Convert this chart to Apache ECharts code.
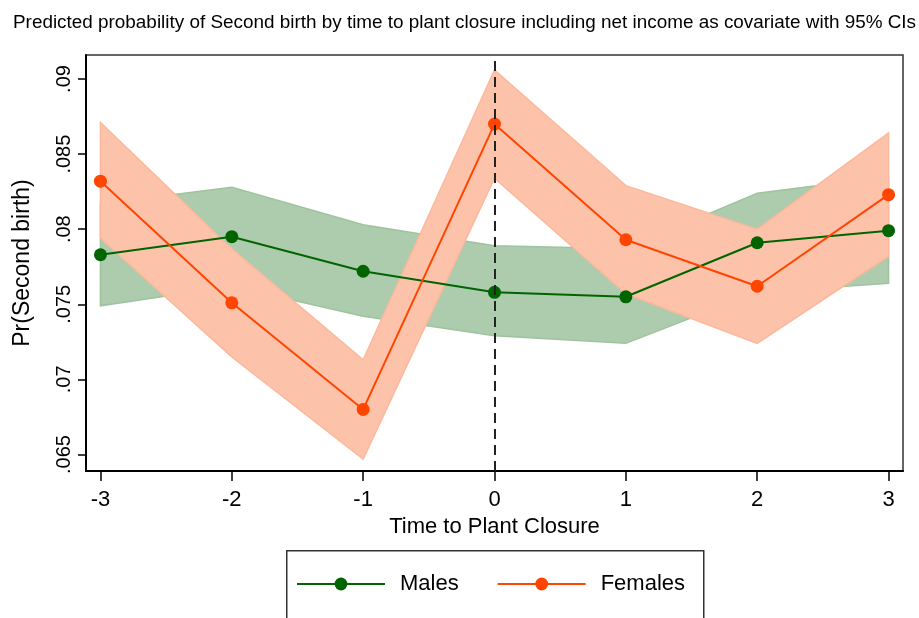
<!DOCTYPE html>
<html><head><meta charset="utf-8">
<script src="https://cdn.jsdelivr.net/npm/echarts@6/dist/echarts.min.js"></script>
<style>html,body{margin:0;padding:0;background:#fff}#c{width:919px;height:618px}</style>
</head><body><div id="c"></div>
<script>
const timeToClosure = [-3, -2, -1, 0, 1, 2, 3];
const males   = [0.0783, 0.0795, 0.0772, 0.0758, 0.0755, 0.0791, 0.0799];
const malesLo = [0.0749, 0.0762, 0.0742, 0.0729, 0.0724, 0.0758, 0.0764];
const malesHi = [0.0817, 0.0828, 0.0803, 0.0789, 0.0787, 0.0824, 0.0835];
const females   = [0.0832, 0.0751, 0.0680, 0.0870, 0.0793, 0.0762, 0.0823];
const femalesLo = [0.0794, 0.0715, 0.0647, 0.0834, 0.0757, 0.0724, 0.0782];
const femalesHi = [0.0871, 0.0787, 0.0713, 0.0906, 0.0829, 0.0800, 0.0864];
const xTicks = [-3, -2, -1, 0, 1, 2, 3];
const yTicks = [0.065, 0.07, 0.075, 0.08, 0.085, 0.09];

const FONT = '"Liberation Sans", Arial, sans-serif';
const chart = echarts.init(document.getElementById('c'), null, {renderer: 'canvas'});

function bandSeries(name, lo, hi, fill, edge, z) {
  return {
    type: 'custom', name: name, z: z, silent: true,
    data: timeToClosure.map((x, i) => [x, lo[i], hi[i]]),
    encode: {x: 0, y: [1, 2]},
    renderItem: function (params, api) {
      if (params.dataIndex !== 0) return null;
      const pts = [];
      for (let i = 0; i < timeToClosure.length; i++) pts.push(api.coord([timeToClosure[i], hi[i]]));
      for (let i = timeToClosure.length - 1; i >= 0; i--) pts.push(api.coord([timeToClosure[i], lo[i]]));
      return {type: 'polygon', shape: {points: pts}, style: {fill: fill, stroke: edge, lineWidth: 1.5}};
    }
  };
}

chart.setOption({
  animation: false,
  backgroundColor: '#fff',
  title: {
    text: 'Predicted probability of Second birth by time to plant closure including net income as covariate with 95% CIs',
    left: 8, top: 8,
    textStyle: {fontFamily: FONT, fontSize: 18.9, fontWeight: 'normal', color: '#000'}
  },
  grid: {left: 86, right: 16, top: 55, bottom: 147, show: true, borderColor: '#333', borderWidth: 1.5, backgroundColor: 'transparent'},
  xAxis: {
    type: 'value', min: -3.11, max: 3.11,
    name: 'Time to Plant Closure', nameLocation: 'middle', nameGap: 42,
    nameTextStyle: {fontFamily: FONT, fontSize: 22, color: '#000'},
    axisLine: {show: true, onZero: false, lineStyle: {color: '#000', width: 2}},
    axisTick: {show: true, customValues: xTicks, length: 10, lineStyle: {color: '#000', width: 1.5}},
    axisLabel: {customValues: xTicks, fontFamily: FONT, fontSize: 22, color: '#000', margin: 18},
    splitLine: {show: false}
  },
  yAxis: {
    type: 'value', min: 0.0639, max: 0.0916,
    name: 'Pr(Second birth)', nameLocation: 'middle', nameGap: 52,
    nameTextStyle: {fontFamily: FONT, fontSize: 23, color: '#000'},
    axisLine: {show: true, onZero: false, lineStyle: {color: '#000', width: 2}},
    axisTick: {show: true, customValues: yTicks, length: 8, lineStyle: {color: '#000', width: 1.5}},
    axisLabel: {
      customValues: yTicks, rotate: 90, fontFamily: FONT, fontSize: 20, color: '#000', margin: 12,
      formatter: v => String(+v.toFixed(3)).replace(/^0/, '')
    },
    splitLine: {show: false}
  },
  legend: {
    data: ['Males', 'Females'],
    left: 296, top: 573, padding: 0,
    itemWidth: 88, itemHeight: 16, itemGap: 38,
    textStyle: {fontFamily: FONT, fontSize: 22, color: '#000', padding: [0, 0, 0, 10]}
  },
  graphic: [{
    type: 'rect', left: 286, top: 550, z: -1,
    shape: {width: 417, height: 120},
    style: {fill: '#fff', stroke: '#333', lineWidth: 1.5}
  }],
  series: [
    bandSeries('Males CI', malesLo, malesHi, '#adcbad', '#9fc39f', 1),
    bandSeries('Females CI', femalesLo, femalesHi, '#fdc3aa', '#fcb89c', 2),
    {
      type: 'line', name: 'Males', z: 3,
      data: timeToClosure.map((x, i) => [x, males[i]]),
      symbol: 'circle', symbolSize: 13,
      lineStyle: {color: '#006400', width: 2},
      itemStyle: {color: '#006400'},
      markLine: {
        silent: true, symbol: 'none', label: {show: false},
        lineStyle: {color: '#222', type: [10, 6], width: 2},
        data: [{xAxis: 0}]
      }
    },
    {
      type: 'line', name: 'Females', z: 4,
      data: timeToClosure.map((x, i) => [x, females[i]]),
      symbol: 'circle', symbolSize: 13,
      lineStyle: {color: '#ff4500', width: 2},
      itemStyle: {color: '#ff4500'}
    }
  ]
});
</script>
</body></html>
